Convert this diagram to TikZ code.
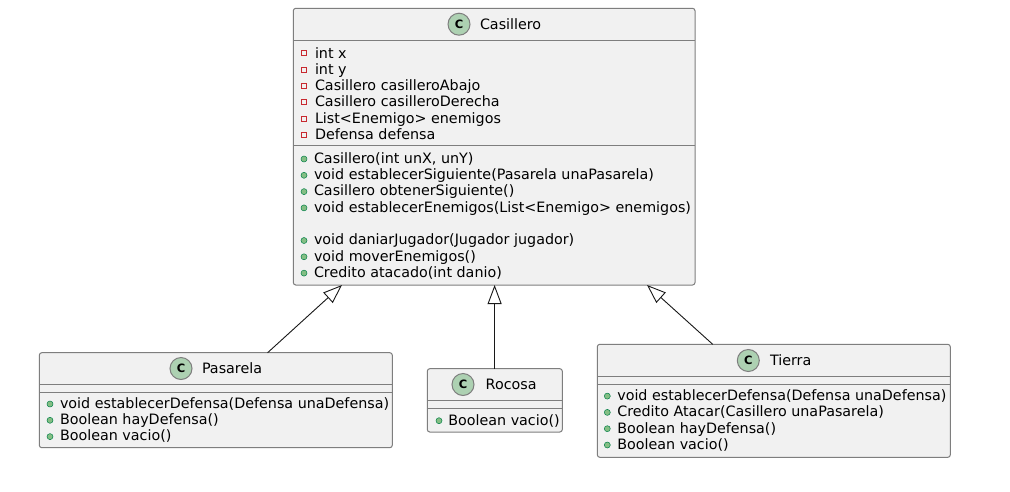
\documentclass[tikz,border=0pt]{standalone}
\usepackage{fontspec}
\setmainfont{DejaVu Sans}
\usetikzlibrary{arrows.meta}
\definecolor{boxfill}{HTML}{F1F1F1}
\definecolor{boxline}{HTML}{7E7E7E}
\definecolor{arrline}{HTML}{181818}
\definecolor{cfill}{HTML}{ADD1B2}
\definecolor{privred}{HTML}{C82930}
\definecolor{pubfill}{HTML}{84BE84}
\definecolor{publine}{HTML}{038048}
\tikzset{
  umlbox/.style={draw=boxline, fill=boxfill, line width=1pt, rounded corners=2.5pt,
    inner sep=0pt, outer sep=0pt, anchor=north west, rectangle},
  sepline/.style={draw=boxline, line width=1pt},
  mtext/.style={anchor=base west, inner sep=0pt, outer sep=0pt,
    font=\fontsize{14.3}{16.3}\selectfont, text=black},
  ctitle/.style={anchor=base west, inner sep=0pt, outer sep=0pt,
    font=\fontsize{14.3}{16.3}\selectfont, text=black},
  cicon/.style={circle, draw=boxline, fill=cfill, line width=1pt, minimum size=22pt,
    inner sep=0pt, font=\fontsize{11.5}{12}\selectfont\bfseries},
  privicon/.style={draw=privred, line width=0.7pt, fill=none},
  pubicon/.style={draw=publine, fill=pubfill, line width=0.5pt},
  inherit/.style={draw=arrline, line width=0.9pt,
    -{Triangle[open, length=19pt, width=14pt, line width=0.9pt, fill=white]}},
}
\newcommand{\privat}[2]{\draw[privicon] (#1-2.5,#2-7.3) rectangle (#1+2.5,#2-2.3);}
\newcommand{\publ}[2]{\fill[pubicon] (#1,#2-4.3) circle (3pt);}
\begin{document}
\begin{tikzpicture}[x=1pt,y=-1pt]
\useasboundingbox (0,0) rectangle (1010,491);
\fill[white] (0,0) rectangle (1010,491);

% ---------- Casillero ----------
\node[umlbox, minimum width=401.7pt, minimum height=276.7pt] (cas) at (293.3,8.3) {};
\node[cicon] (casC) at (459,24.2) {C};
\node[ctitle] (casT) at (480,29) {Casillero};
\draw[sepline] (293.3,40) -- (695,40);
\draw[sepline] (293.3,145) -- (695,145);
\foreach \y/\t [count=\i] in {58/{int x},74.3/{int y},90.6/{Casillero casilleroAbajo},
  106.9/{Casillero casilleroDerecha},123.2/{List<Enemigo> enemigos},139.5/{Defensa defensa}}{
  \privat{304.2}{\y}
  \node[mtext] (casA\i) at (315,\y) {\t};
}
\foreach \y/\t [count=\i] in {163.3/{Casillero(int unX, unY)},
  179.6/{void establecerSiguiente(Pasarela unaPasarela)},
  195.9/{Casillero obtenerSiguiente()},
  212.2/{void establecerEnemigos(List<Enemigo> enemigos)},
  244.8/{void daniarJugador(Jugador jugador)},
  261.1/{void moverEnemigos()},
  277.4/{Credito atacado(int danio)}}{
  \publ{304}{\y}
  \node[mtext] (casM\i) at (314,\y) {\t};
}

% ---------- Pasarela ----------
\node[umlbox, minimum width=353pt, minimum height=95pt] (pas) at (39.3,352.7) {};
\node[cicon] (pasC) at (181,368.5) {C};
\node[ctitle] (pasT) at (202,373) {Pasarela};
\draw[sepline] (39.3,384.3) -- (392.3,384.3);
\draw[sepline] (39.3,392.3) -- (392.3,392.3);
\foreach \y/\t [count=\i] in {408.3/{void establecerDefensa(Defensa unaDefensa)},
  424.6/{Boolean hayDefensa()},440.9/{Boolean vacio()}}{
  \publ{50}{\y}
  \node[mtext] (pasM\i) at (60,\y) {\t};
}

% ---------- Rocosa ----------
\node[umlbox, minimum width=135pt, minimum height=63.3pt] (roc) at (427.3,368.7) {};
\node[cicon] (rocC) at (463,384.5) {C};
\node[ctitle] (rocT) at (485.7,389) {Rocosa};
\draw[sepline] (427.3,400.3) -- (562.3,400.3);
\draw[sepline] (427.3,408.3) -- (562.3,408.3);
\publ{439}{425}
\node[mtext] (rocM1) at (448.3,425) {Boolean vacio()};

% ---------- Tierra ----------
\node[umlbox, minimum width=353pt, minimum height=113pt] (tie) at (597.3,344.3) {};
\node[cicon] (tieC) at (748.3,360.5) {C};
\node[ctitle] (tieT) at (770,365) {Tierra};
\draw[sepline] (597.3,376.7) -- (950.3,376.7);
\draw[sepline] (597.3,384.3) -- (950.3,384.3);
\foreach \y/\t [count=\i] in {400.4/{void establecerDefensa(Defensa unaDefensa)},
  416.7/{Credito Atacar(Casillero unaPasarela)},
  433/{Boolean hayDefensa()},449.3/{Boolean vacio()}}{
  \publ{607.3}{\y}
  \node[mtext] (tieM\i) at (617.3,\y) {\t};
}

% ---------- Inheritance ----------
\coordinate (pasTop) at (267.6,352.7);
\coordinate (casP) at (342,285);
\coordinate (rocTop) at (494.6,368.7);
\coordinate (casR) at (494.6,285);
\coordinate (tieTop) at (712.7,344.3);
\coordinate (casTi) at (647,285);
\draw[inherit] (pasTop) -- (casP);
\draw[inherit] (rocTop) -- (casR);
\draw[inherit] (tieTop) -- (casTi);
\end{tikzpicture}
\end{document}
